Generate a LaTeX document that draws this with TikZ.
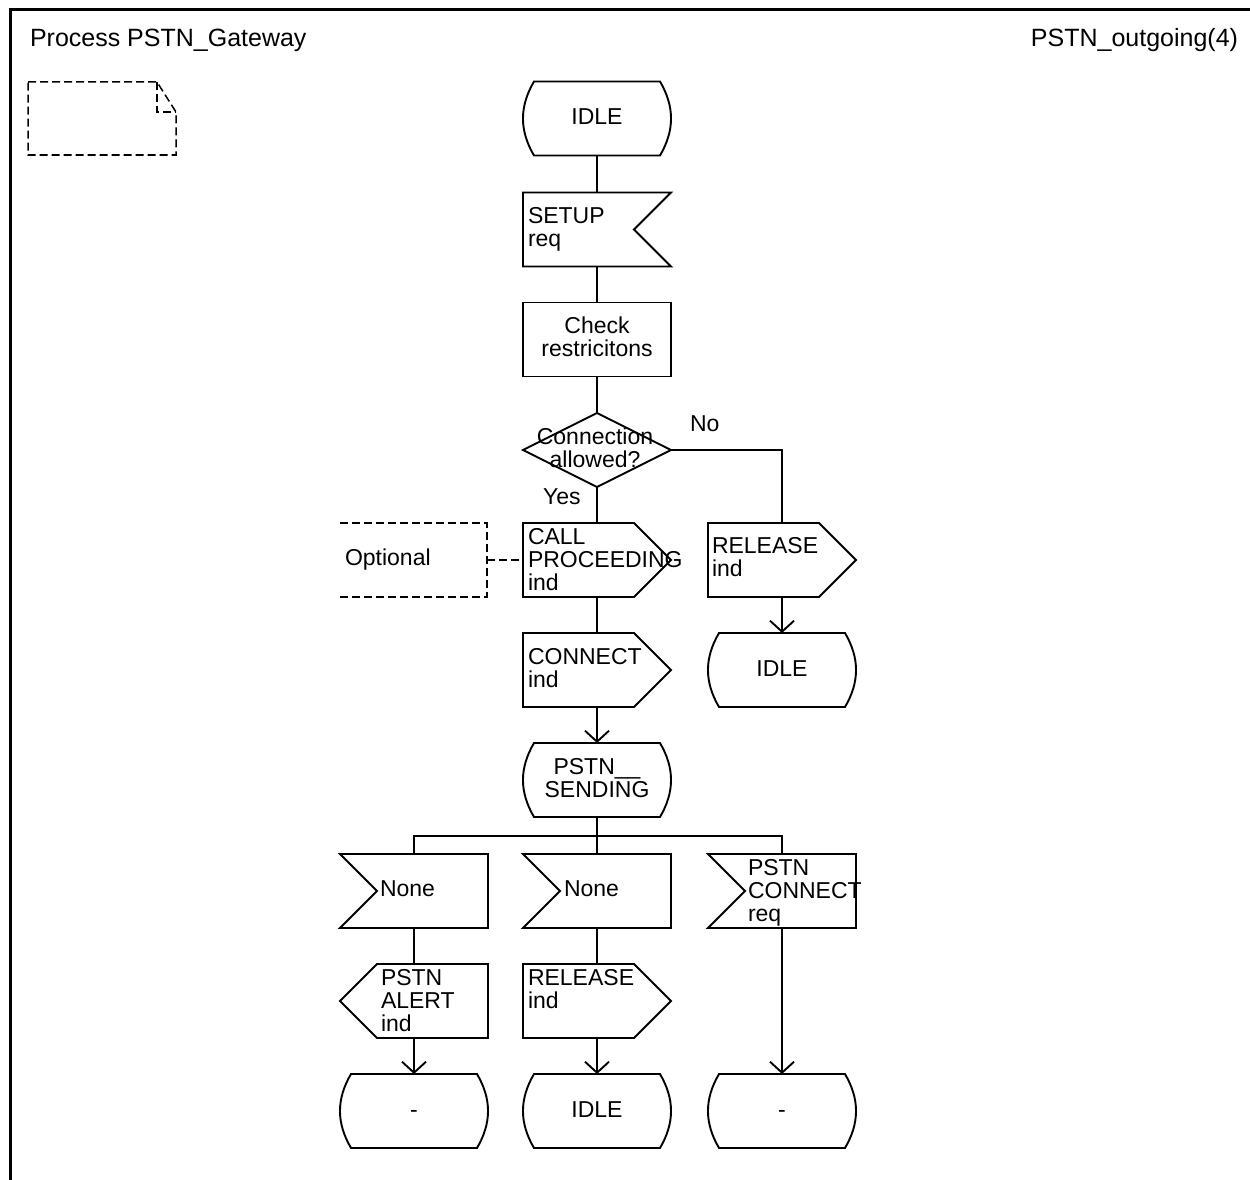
\documentclass[tikz,border=0pt]{standalone}
\usepackage{fontspec}
\setmainfont{Liberation Sans}
\usetikzlibrary{arrows.meta,calc}

\tikzset{
  ln/.style={line width=1.9pt, line join=miter},
  sym/.style={draw=none, minimum width=148pt, minimum height=74pt, inner sep=0pt, outer sep=0pt},
  txt/.style={inner sep=0pt, outer sep=0pt, font=\fontsize{23}{23}\selectfont, align=left},
  ctxt/.style={inner sep=0pt, outer sep=0pt, font=\fontsize{23}{23}\selectfont, align=center},
  ttl/.style={inner sep=0pt, outer sep=0pt, font=\fontsize{25}{30}\selectfont},
  arr/.style={ln, -{Straight Barb[length=11pt,width=24pt]}},
  dsh/.style={line width=1.5pt, dash pattern=on 8pt off 4pt},
}

\newcommand\sdlstate[1]{\draw[ln] ($(#1.north west)+(11,0)$) -- ($(#1.north east)+(-11,0)$) .. controls ($(#1.north east)+(3.7,25)$) and ($(#1.south east)+(3.7,-25)$) .. ($(#1.south east)+(-11,0)$) -- ($(#1.south west)+(11,0)$) .. controls ($(#1.south west)+(-3.7,-25)$) and ($(#1.north west)+(-3.7,25)$) .. cycle;}
\newcommand\sdlinR[1]{\draw[ln] (#1.north west) -- (#1.north east) -- ($(#1.east)+(-37,0)$) -- (#1.south east) -- (#1.south west) -- cycle;}
\newcommand\sdlinL[1]{\draw[ln] (#1.north west) -- (#1.north east) -- (#1.south east) -- (#1.south west) -- ($(#1.west)+(37,0)$) -- cycle;}
\newcommand\sdloutR[1]{\draw[ln] (#1.north west) -- ($(#1.north east)+(-37,0)$) -- (#1.east) -- ($(#1.south east)+(-37,0)$) -- (#1.south west) -- cycle;}
\newcommand\sdloutL[1]{\draw[ln] ($(#1.north west)+(37,0)$) -- (#1.north east) -- (#1.south east) -- ($(#1.south west)+(37,0)$) -- (#1.west) -- cycle;}
\newcommand\sdltask[1]{\draw[ln] (#1.north west) rectangle (#1.south east);}
\newcommand\sdldec[1]{\draw[ln] (#1.north) -- (#1.east) -- (#1.south) -- (#1.west) -- cycle;}

\begin{document}
\begin{tikzpicture}[x=1pt,y=-1pt]
\useasboundingbox (0,0) rectangle (1250,1180);

% frame
\draw[line width=3pt] (10,1185) -- (10,9.5) -- (1255,9.5);
\node[ttl, anchor=base west] (title) at (30,47) {Process PSTN\_Gateway};
\node[ttl, anchor=base east] (page) at (1238,47) {PSTN\_outgoing(4)};

% text symbol (top left)
\draw[dsh] (28,82) -- (157,82) -- (176,112) -- (176,155) -- (28,155) -- cycle;
\draw[dsh] (157,82) -- (157,112) -- (176,112);

% symbol nodes
\node[sym] (idleA) at (597,118.5) {};
\node[sym] (setup) at (597,229.5) {};
\node[sym] (check) at (597,339.5) {};
\node[sym] (dec)   at (597,450) {};
\node[sym] (call)  at (597,560) {};
\node[sym] (relA)  at (782,560) {};
\node[sym, minimum width=147pt] (opt) at (413.5,560) {};
\node[sym] (conn)  at (597,670) {};
\node[sym] (idleB) at (782,670) {};
\node[sym] (send)  at (597,780) {};
\coordinate (bus) at (597,836);
\node[sym] (none1) at (414,891) {};
\node[sym] (none2) at (597,891) {};
\node[sym] (pcon)  at (782,891) {};
\node[sym] (alert) at (414,1001) {};
\node[sym] (relB)  at (597,1001) {};
\node[sym] (st1)   at (414,1111) {};
\node[sym] (st2)   at (597,1111) {};
\node[sym] (st3)   at (782,1111) {};

% outlines
\sdlstate{idleA}
\sdlinR{setup}
\sdltask{check}
\sdldec{dec}
\sdloutR{call}
\sdloutR{relA}
\draw[dsh] (opt.north west) -- (opt.north east) -- (opt.south east) -- (opt.south west);
\sdloutR{conn}
\sdlstate{idleB}
\sdlstate{send}
\sdlinL{none1}
\sdlinL{none2}
\sdlinL{pcon}
\sdloutL{alert}
\sdloutR{relB}
\sdlstate{st1}
\sdlstate{st2}
\sdlstate{st3}

% texts
\node[ctxt, anchor=base] (idleA-t) at (597,124.5) {IDLE};
\node[txt, anchor=north west] (setup-t) at (528,207.5) {SETUP\\req};
\node[ctxt, anchor=north] (check-t) at (597,316.5) {Check\\restricitons};
\node[ctxt, anchor=north] (dec-t) at (595,427.5) {Connection\\allowed?};
\node[txt, anchor=base west] (no-t) at (690,431) {No};
\node[txt, anchor=base west] (yes-t) at (543,504) {Yes};
\node[txt, anchor=north west] (call-t) at (528,528) {CALL\\PROCEEDING\\ind};
\node[txt, anchor=north west] (relA-t) at (712,537.5) {RELEASE\\ind};
\node[txt, anchor=base west] (opt-t) at (345,565.5) {Optional};
\node[txt, anchor=north west] (conn-t) at (528,648.5) {CONNECT\\ind};
\node[ctxt, anchor=base] (idleB-t) at (782,676) {IDLE};
\node[ctxt, anchor=north] (send-t) at (597,758.5) {PSTN\_\_\\SENDING};
\node[txt, anchor=base west] (none1-t) at (380,896.5) {None};
\node[txt, anchor=base west] (none2-t) at (564,896.5) {None};
\node[txt, anchor=north west] (pcon-t) at (748,859.5) {PSTN\\CONNECT\\req};
\node[txt, anchor=north west] (alert-t) at (381,969) {PSTN\\ALERT\\ind};
\node[txt, anchor=north west] (relB-t) at (528,969.5) {RELEASE\\ind};
\node[ctxt, anchor=base] (st1-t) at (414,1117) {-};
\node[ctxt, anchor=base] (st2-t) at (597,1117) {IDLE};
\node[ctxt, anchor=base] (st3-t) at (782,1117) {-};

% connectors
\draw[ln] (idleA) -- (setup);
\draw[ln] (setup) -- (check);
\draw[ln] (check) -- (dec.north);
\draw[ln] (dec.south) -- (call);
\draw[ln] (dec.east) -| (relA.north);
\draw[dsh] (opt.east) -- (call.west);
\draw[arr] (relA) -- (idleB);
\draw[ln] (call) -- (conn);
\draw[arr] (conn) -- (send);
\draw[ln] (send) -- (bus);
\draw[ln] (none1.north) |- (bus) -| (pcon.north);
\draw[ln] (bus) -- (none2.north);
\draw[ln] (none1) -- (alert);
\draw[ln] (none2) -- (relB);
\draw[arr] (alert) -- (st1);
\draw[arr] (relB) -- (st2);
\draw[arr] (pcon) -- (st3);
\end{tikzpicture}
\end{document}
